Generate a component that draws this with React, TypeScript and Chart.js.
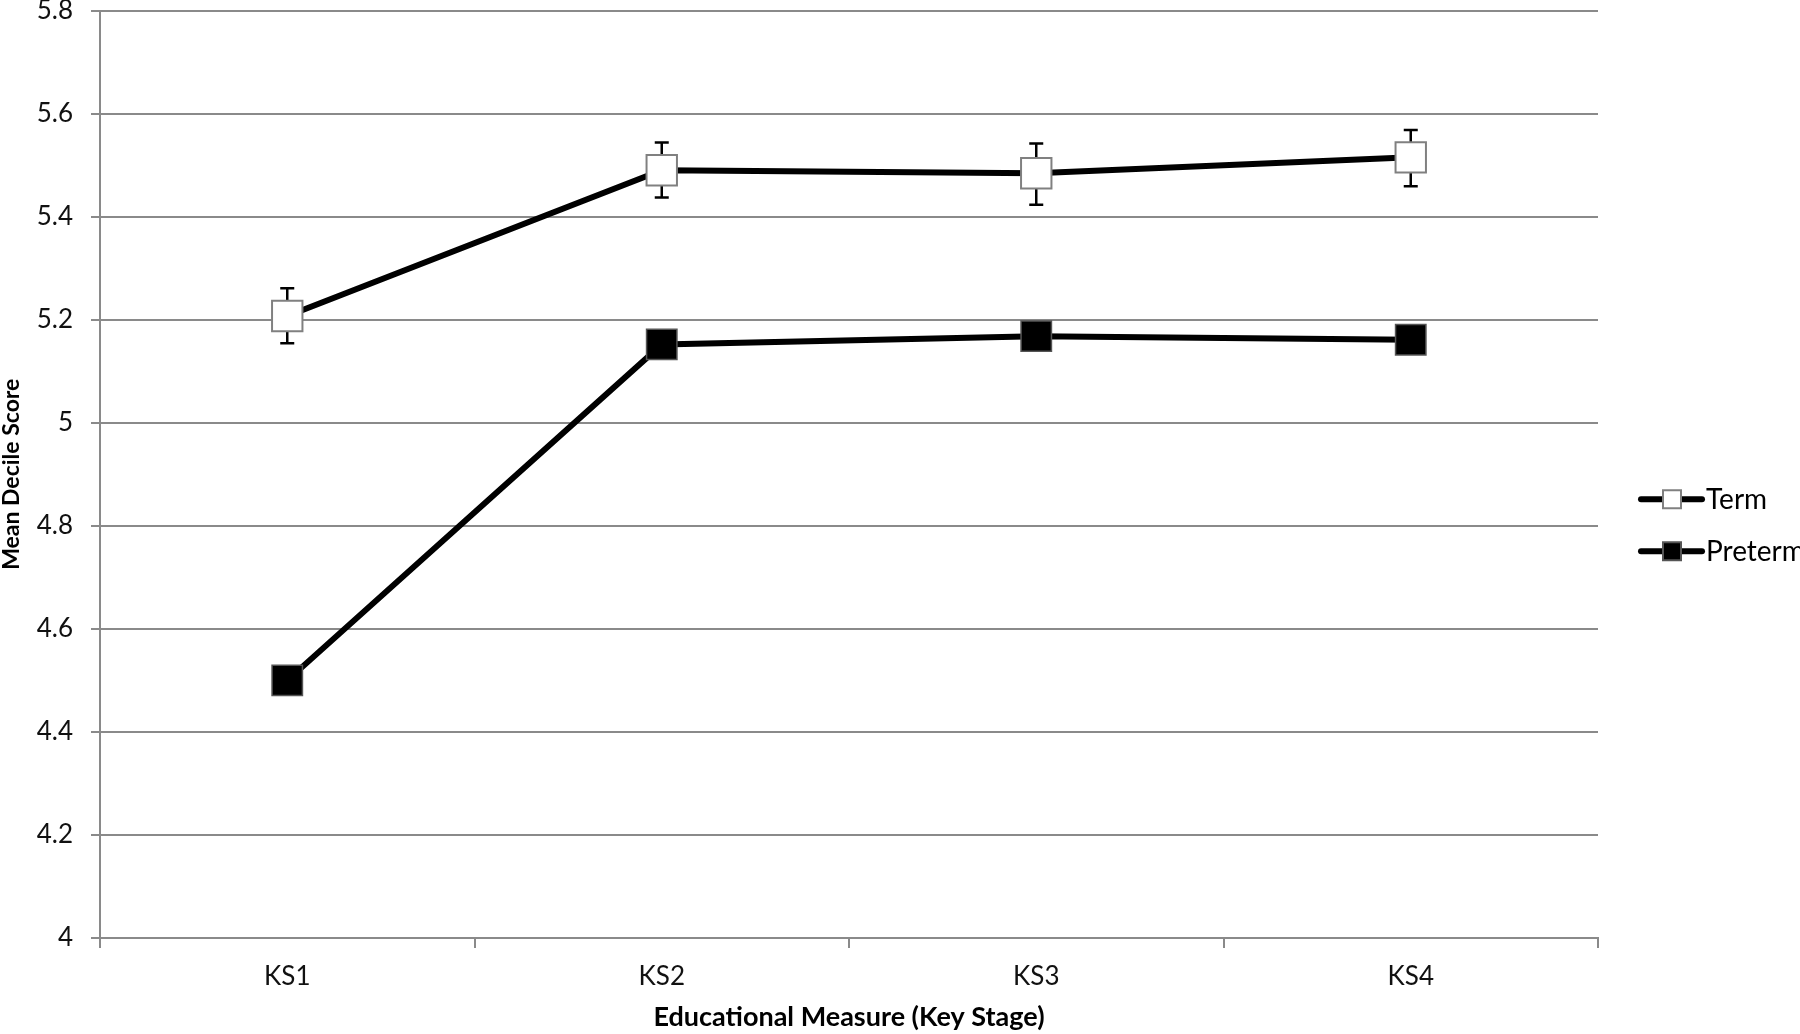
import React, { useEffect, useRef } from "react";
import { Chart, registerables } from "chart.js";

Chart.register(...registerables);

const categories = ["KS1", "KS2", "KS3", "KS4"];
const termValues = [5.207, 5.49, 5.484, 5.515];
const termLow = [5.154, 5.437, 5.423, 5.459];
const termHigh = [5.261, 5.544, 5.542, 5.568];
const pretermValues = [4.5, 5.152, 5.168, 5.161];
const seriesNames = ["Term", "Preterm"];
const xTitle = "Educational Measure (Key Stage)";
const yTitle = "Mean Decile Score";
const yMin = 4;
const yMax = 5.8;
const yStep = 0.2;

const GRID = "#8a8a8a";
const FONT = "Lato, 'Open Sans', sans-serif";

const errorBarPlugin = {
  id: "errorBars",
  beforeDatasetsDraw(chart: any) {
    const ctx = chart.ctx;
    const meta = chart.getDatasetMeta(0);
    const y = chart.scales.y;
    ctx.save();
    ctx.strokeStyle = "#000";
    ctx.lineWidth = 2.5;
    meta.data.forEach((pt: any, i: number) => {
      const x = pt.x;
      const yl = y.getPixelForValue(termLow[i]);
      const yh = y.getPixelForValue(termHigh[i]);
      ctx.beginPath();
      ctx.moveTo(x, yl);
      ctx.lineTo(x, yh);
      ctx.moveTo(x - 7, yl);
      ctx.lineTo(x + 7, yl);
      ctx.moveTo(x - 7, yh);
      ctx.lineTo(x + 7, yh);
      ctx.stroke();
    });
    ctx.restore();
  },
};

const legendPlugin = {
  id: "customLegend",
  afterDraw(chart: any) {
    const ctx = chart.ctx;
    const area = chart.chartArea;
    const mid = (area.top + area.bottom) / 2;
    ctx.save();
    chart.data.datasets.forEach((ds: any, i: number) => {
      const yy = mid + 25 + i * 52;
      const x0 = area.right + 43;
      const x1 = area.right + 104;
      const xc = area.right + 74;
      ctx.strokeStyle = ds.borderColor;
      ctx.lineWidth = 6;
      ctx.lineCap = "round";
      ctx.beginPath();
      ctx.moveTo(x0, yy);
      ctx.lineTo(x1, yy);
      ctx.stroke();
      ctx.lineCap = "butt";
      ctx.fillStyle = ds.pointBackgroundColor;
      ctx.strokeStyle = ds.pointBorderColor;
      ctx.lineWidth = 2;
      ctx.fillRect(xc - 9, yy - 9, 18, 18);
      ctx.strokeRect(xc - 9, yy - 9, 18, 18);
      ctx.fillStyle = "#000";
      ctx.font = `28px ${FONT}`;
      ctx.textBaseline = "middle";
      ctx.textAlign = "left";
      ctx.fillText(ds.label, area.right + 108, yy + 1);
    });
    ctx.restore();
  },
};

export default function App() {
  const ref = useRef<HTMLCanvasElement>(null);
  useEffect(() => {
    document.body.style.margin = "0";
    const chart = new Chart(ref.current!, {
      type: "line",
      data: {
        labels: categories,
        datasets: [
          {
            label: seriesNames[0],
            data: termValues,
            borderColor: "#000",
            borderWidth: 6,
            pointStyle: "rect",
            pointRadius: 21.5,
            pointBackgroundColor: "#fff",
            pointBorderColor: "#808080",
            pointBorderWidth: 2,
            tension: 0,
          },
          {
            label: seriesNames[1],
            data: pretermValues,
            borderColor: "#000",
            borderWidth: 6,
            pointStyle: "rect",
            pointRadius: 21.5,
            pointBackgroundColor: "#000",
            pointBorderColor: "#555",
            pointBorderWidth: 1.5,
            tension: 0,
          },
        ],
      },
      options: {
        animation: false,
        responsive: true,
        maintainAspectRatio: false,
        layout: { autoPadding: false, padding: { left: 0, right: 202, top: 10.5, bottom: 0 } },
        plugins: { legend: { display: false }, tooltip: { enabled: false } },
        scales: {
          x: {
            type: "category",
            offset: true,
            grid: {
              offset: true,
              drawOnChartArea: false,
              drawTicks: true,
              tickLength: 10,
              color: GRID,
              lineWidth: 2,
            },
            border: { display: true, color: GRID, width: 2 },
            ticks: {
              color: "#111",
              font: { family: FONT, size: 26 },
              padding: 13,
            },
            title: {
              display: true,
              text: xTitle,
              color: "#000",
              font: { family: FONT, size: 27, weight: "bold", lineHeight: 1.1 },
              padding: { top: 0, bottom: 2 },
            },
            afterFit(scale: any) {
              scale.height = 96;
              scale.paddingLeft = 0;
              scale.paddingRight = 0;
            },
          },
          y: {
            min: yMin,
            max: yMax,
            ticks: {
              stepSize: yStep,
              color: "#111",
              font: { family: FONT, size: 26 },
              padding: 18,
              callback: (v: any) => String(Number(Number(v).toFixed(1))),
            },
            grid: { color: GRID, lineWidth: 2, tickLength: 9 },
            border: { display: true, color: GRID, width: 2 },
            title: {
              display: true,
              text: yTitle,
              color: "#000",
              font: { family: FONT, size: 23, weight: "bold", lineHeight: 1 },
              padding: { top: 0, bottom: 0 },
            },
            afterFit(scale: any) {
              scale.width = 100;
              scale.paddingTop = 0;
              scale.paddingBottom = 0;
            },
          },
        },
      },
      plugins: [errorBarPlugin, legendPlugin],
    });
    return () => chart.destroy();
  }, []);
  return (
    <div style={{ position: "absolute", left: 0, top: 0, width: 1800, height: 1034, background: "#fff" }}>
      <canvas ref={ref} />
    </div>
  );
}
